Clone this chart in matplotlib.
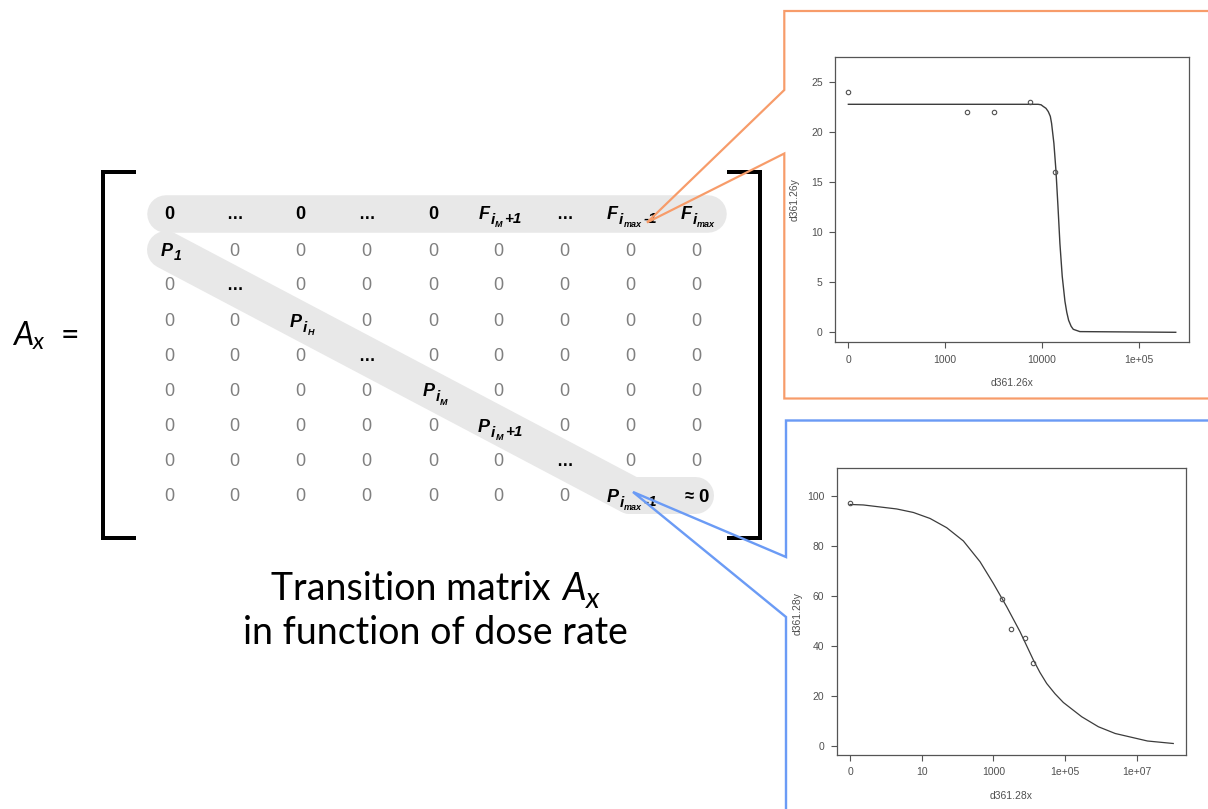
import matplotlib
matplotlib.use("Agg")
import matplotlib.pyplot as plt

# ---------------- data ----------------
col_x = [169, 234, 300, 366, 433, 498, 564, 630, 696]
row_y = [212.5, 249.5, 284, 320, 354.5, 389.5, 425, 460, 495]

top_row = ["0b", "dots", "0b", "dots", "0b", "F_iM+1", "dots", "F_imax-1", "F_imax"]
diag_cells = {(1, 0): "P_1", (2, 1): "dots", (3, 2): "P_iH", (4, 3): "dots",
              (5, 4): "P_iM", (6, 5): "P_iM+1", (7, 6): "dots", (8, 7): "P_imax-1",
              (8, 8): "approx0"}

# fitted curve and observations, dose rate plot 1 (x given as log10 axis position)
orange_pts_x = [2.0, 3.23, 3.50, 3.88, 4.13]
orange_pts_y = [24, 22, 22, 23, 16]
orange_fit_x = [2.0, 3.0, 3.96, 3.99, 4.01, 4.04, 4.064, 4.085, 4.098, 4.122, 4.143,
                4.164, 4.184, 4.208, 4.236, 4.255, 4.274, 4.3, 4.322, 4.39, 5.38]
orange_fit_y = [22.8, 22.8, 22.8, 22.75, 22.6, 22.4, 22.07, 21.6, 20.9, 18.9, 16.2,
                12.6, 8.9, 5.6, 3.1, 2.0, 1.2, 0.6, 0.3, 0.07, 0.0]
orange_xticks = [2, 3, 4, 5]
orange_xticklabels = ["0", "1000", "10000", "1e+05"]
orange_yticks = [0, 5, 10, 15, 20, 25]

# dose rate plot 2
blue_pts_x = [-1.0, 3.233, 3.50, 3.87, 4.11]
blue_pts_y = [96.9, 58.7, 46.8, 43.2, 32.9]
blue_fit_x = [-1.0, -0.628, 0.302, 0.767, 1.233, 1.698, 2.163, 2.628, 3.0, 3.372,
              3.744, 4.116, 4.3, 4.488, 4.72, 4.953, 5.465, 5.93, 6.4, 7.3, 8.02]
blue_fit_y = [96.5, 96.3, 94.7, 93.3, 90.9, 87.2, 81.9, 73.6, 64.9, 55.6,
              45.6, 34.3, 29.3, 24.9, 20.8, 17.3, 11.6, 7.6, 4.9, 1.9, 0.9]
blue_xticks = [-1, 1, 3, 5, 7]
blue_xticklabels = ["0", "10", "1000", "1e+05", "1e+07"]
blue_yticks = [0, 20, 40, 60, 80, 100]

# ---------------- figure ----------------
W, H = 1208, 809
fig = plt.figure(figsize=(W / 100, H / 100), dpi=100)
ax = fig.add_axes([0, 0, 1, 1])
ax.set_xlim(0, W)
ax.set_ylim(H, 0)
ax.axis("off")
renderer = fig.canvas.get_renderer()

PX = 72 / 100.0  # points per pixel
BAND = "#E8E8E8"
GREY = "#808080"
ORANGE = "#F79C6A"
BLUE = "#6B9BF5"
MFONT = "Liberation Sans"


def draw_runs(x, y, runs, ha="center", zorder=5):
    objs, widths, gaps = [], [], []
    for r in runs:
        kw = dict(family=MFONT, weight="bold", style="italic", color="black")
        kw.update(r.get("kw", {}))
        t = ax.text(0, y + r.get("dy", 0), r["s"], fontsize=r["size"], va="baseline",
                    ha="left", zorder=zorder, **kw)
        objs.append(t)
        widths.append(t.get_window_extent(renderer).width)
        gaps.append(r.get("gap", 0))
    total = sum(widths) + sum(gaps)
    cx = x - total / 2 if ha == "center" else x
    for t, w, g in zip(objs, widths, gaps):
        cx += g
        t.set_x(cx)
        cx += w


def elem(main, sub, subsub=None, tail=None, size=13, subsize=11, dy1=4.5, dy2=7.5):
    runs = [dict(s=main, size=size)]
    runs.append(dict(s=sub, size=subsize, dy=dy1, gap=1))
    if subsub:
        runs.append(dict(s=subsub, size=6.5, dy=dy2, gap=0.3))
    if tail:
        runs.append(dict(s=tail, size=subsize, dy=dy1 - 0.5, gap=1.5))
    return runs


LABELS = {
    "F_iM+1": elem("F", "i", "M", "+1"),
    "F_imax-1": elem("F", "i", "max", "-1"),
    "F_imax": elem("F", "i", "max"),
    "P_1": [dict(s="P", size=13), dict(s="1", size=10, dy=3.5, gap=1)],
    "P_iH": elem("P", "i", "H", dy1=5, dy2=8.5),
    "P_iM": elem("P", "i", "M", dy1=5, dy2=8.5),
    "P_iM+1": elem("P", "i", "M", "+1", dy1=5, dy2=8.5),
    "P_imax-1": elem("P", "i", "max", "-1", dy1=5, dy2=8.5),
}

# grey highlight bands
ax.plot([166, 708], [214, 214], color=BAND, lw=37.5 * PX, solid_capstyle="round", zorder=1)
ax.plot([166, 630], [250, 495], color=BAND, lw=38 * PX, solid_capstyle="round", zorder=1)
ax.plot([630, 695], [495, 495], color=BAND, lw=37 * PX, solid_capstyle="round", zorder=1)

# brackets
bw = 4 * PX
ax.plot([136, 103, 103, 136], [171.5, 171.5, 537.5, 537.5], color="black", lw=bw,
        solid_joinstyle="miter", solid_capstyle="butt", zorder=3)
ax.plot([727, 760, 760, 727], [171.5, 171.5, 537.5, 537.5], color="black", lw=bw,
        solid_joinstyle="miter", solid_capstyle="butt", zorder=3)

# matrix entries
for r, yc in enumerate(row_y):
    base = yc + 6.4
    for c, xc in enumerate(col_x):
        if r == 0:
            code = top_row[c]
        else:
            code = diag_cells.get((r, c), "0")
        if code == "0":
            ax.text(xc, base, "0", fontsize=13, family=MFONT, color=GREY,
                    ha="center", va="baseline", zorder=5)
        elif code == "0b":
            ax.text(xc, base, "0", fontsize=13, family=MFONT, weight="bold",
                    color="black", ha="center", va="baseline", zorder=5)
        elif code == "dots":
            ax.text(xc, base, "\u2026", fontsize=12, family=MFONT, weight="bold",
                    color="black", ha="center", va="baseline", zorder=5)
        elif code == "approx0":
            draw_runs(xc + 0.5, base + 0.5,
                      [dict(s="\u2248", size=12, kw=dict(style="normal"), dy=-0.5),
                       dict(s="0", size=13.5, kw=dict(style="normal"), gap=4)])
        else:
            draw_runs(xc + 2, base + 0.5, LABELS[code])

# A_x =
draw_runs(13, 345, [dict(s="A", size=23, kw=dict(family="Lato", weight="normal")),
                    dict(s="x", size=17, dy=3.5, gap=0, kw=dict(family="Lato", weight="normal")),
                    dict(s="=", size=23, gap=16, kw=dict(family="Lato", weight="normal", style="normal"))],
          ha="left")

# caption
draw_runs(435, 600, [dict(s="Transition matrix", size=27, kw=dict(family="Lato", weight="normal", style="normal")),
                     dict(s="A", size=27, gap=12, kw=dict(family="Lato", weight="normal")),
                     dict(s="x", size=21, dy=8, gap=0, kw=dict(family="Lato", weight="normal"))])
draw_runs(435, 644, [dict(s="in function of dose rate", size=27,
                          kw=dict(family="Lato", weight="normal", style="normal"))])

# callouts
ax.plot([1220, 784.3, 784.3, 647, 784.3, 784.3, 1220],
        [11, 11, 90, 222.5, 153.5, 398.5, 398.5], color=ORANGE, lw=2.2 * PX,
        solid_joinstyle="miter", zorder=8)
ax.plot([1220, 786, 786, 633, 786, 786],
        [420.5, 420.5, 557, 492, 617, 820], color=BLUE, lw=2.4 * PX,
        solid_joinstyle="miter", zorder=8)


# ---------------- inset R-style plots ----------------
def r_axes(px_box, xlim, ylim, xticks, xticklabels, yticks, xlabel, ylabel, ylab_y):
    x0, y0, x1, y1 = px_box
    a = fig.add_axes([x0 / W, 1 - y1 / H, (x1 - x0) / W, (y1 - y0) / H])
    a.set_xlim(xlim)
    a.set_ylim(ylim)
    a.set_xticks(xticks)
    a.set_xticklabels(xticklabels)
    a.set_yticks(yticks)
    a.set_yticklabels([str(v) for v in yticks])
    for s in a.spines.values():
        s.set_color("#555555")
        s.set_linewidth(0.9)
    a.tick_params(direction="out", length=4.3, width=0.8, color="#555555",
                  labelsize=7.5, labelcolor="#505050", pad=4.5)
    for lab in a.get_xticklabels() + a.get_yticklabels():
        lab.set_family(MFONT)
    a.text(0.5, -0.143, xlabel, transform=a.transAxes, ha="center", va="center",
           fontsize=7.5, family=MFONT, color="#505050")
    a.text(-0.113, ylab_y, ylabel, transform=a.transAxes, ha="center", va="center",
           rotation=90, fontsize=7.5, family=MFONT, color="#505050")
    return a


a1 = r_axes((835, 57.3, 1189.3, 342.3), (1.862, 5.52), (-1, 27.5),
            orange_xticks, orange_xticklabels, orange_yticks, "d361.26x", "d361.26y", 0.5)
a1.plot(orange_fit_x, orange_fit_y, color="#3c3c3c", lw=1.0)
a1.plot(orange_pts_x, orange_pts_y, "o", ms=3.2, mfc="none", mec="#505050", mew=0.8)

a2 = r_axes((836.7, 467.7, 1185.7, 755), (-1.372, 8.367), (-3.7, 111.2),
            blue_xticks, blue_xticklabels, blue_yticks, "d361.28x", "d361.28y", 0.494)
a2.plot(blue_fit_x, blue_fit_y, color="#3c3c3c", lw=0.9)
a2.plot(blue_pts_x, blue_pts_y, "o", ms=3.2, mfc="none", mec="#505050", mew=0.8)

fig.savefig("out.png", dpi=100)
